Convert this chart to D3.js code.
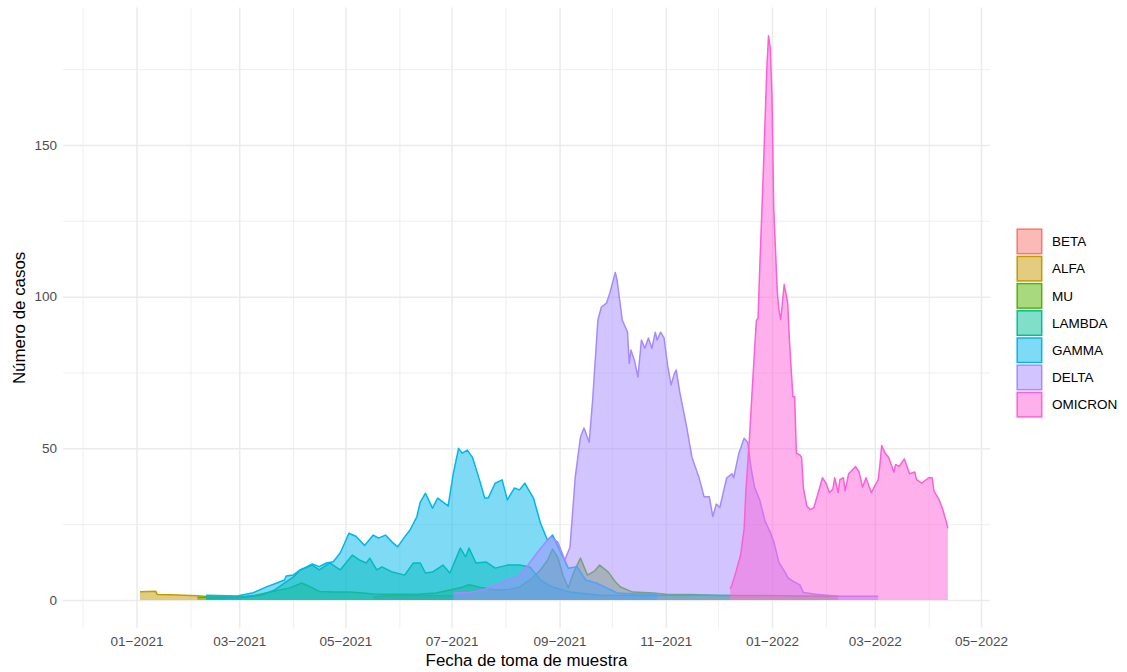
<!DOCTYPE html>
<html>
<head>
<meta charset="utf-8">
<script src="https://cdn.jsdelivr.net/npm/d3@7"></script>
<style>
  body { margin: 0; background: #fff; }
  svg { font-family: "Liberation Sans", Arial, Helvetica, sans-serif; }
  .grid line { stroke: #ebebeb; }
  .grid path { display: none; }
  .axis path { display: none; }
  .axis text { fill: #4d4d4d; font-size: 13.5px; }
</style>
</head>
<body>
<svg id="chart" width="1127" height="672"></svg>
<script>
var variants = ["BETA", "ALFA", "MU", "LAMBDA", "GAMMA", "DELTA", "OMICRON"];
var colors = ["#F8766D", "#C49A00", "#53B400", "#00C094", "#00B6EB", "#A58AFF", "#FB61D7"];

// first and last sample date in the data set
var dateRange = ["2020-12-14", "2022-04-12"];
var xBreaks = ["2021-01-01", "2021-03-01", "2021-05-01", "2021-07-01", "2021-09-01", "2021-11-01",
               "2022-01-01", "2022-03-01", "2022-05-01"];
var xMinor = ["2020-12-01", "2021-02-01", "2021-04-01", "2021-06-01", "2021-08-01", "2021-10-01",
              "2021-12-01", "2022-02-01", "2022-04-01"];
var yBreaks = [0, 50, 100, 150];
var yMinor = [25, 75, 125, 175];

var BETA = [["2021-05-17", 1.0], ["2021-05-22", 1.3], ["2021-06-01", 1.4], ["2021-06-12", 1.5],
            ["2021-06-22", 1.4], ["2021-07-02", 1.3]];

var ALFA = [["2021-01-03", 2.7], ["2021-01-08", 2.8], ["2021-01-12", 2.9], ["2021-01-13", 1.8],
            ["2021-01-20", 1.7], ["2021-01-28", 1.6], ["2021-02-05", 1.4], ["2021-02-12", 1.1],
            ["2021-02-20", 1.0], ["2021-03-02", 0.9]];

var MU = [["2021-02-05", 0.8], ["2021-02-12", 1.0], ["2021-02-22", 1.0], ["2021-03-02", 1.0],
          ["2021-03-10", 1.6], ["2021-03-19", 2.6], ["2021-03-30", 4.0], ["2021-04-06", 5.6],
          ["2021-04-11", 4.3], ["2021-04-16", 2.8], ["2021-04-25", 2.6], ["2021-05-03", 2.6],
          ["2021-05-11", 2.3], ["2021-05-17", 2.0], ["2021-06-01", 1.9], ["2021-06-13", 2.0],
          ["2021-06-22", 2.3], ["2021-06-30", 3.3], ["2021-07-07", 4.2], ["2021-07-11", 5.0],
          ["2021-07-19", 4.0], ["2021-07-26", 3.3], ["2021-08-03", 3.5], ["2021-08-09", 4.3],
          ["2021-08-15", 6.6], ["2021-08-21", 9.9], ["2021-08-25", 13.0], ["2021-08-28", 16.8],
          ["2021-08-31", 14.0], ["2021-09-03", 8.0], ["2021-09-06", 4.0], ["2021-09-09", 9.0],
          ["2021-09-13", 13.8], ["2021-09-17", 8.2], ["2021-09-21", 9.5], ["2021-09-24", 11.5],
          ["2021-09-29", 9.2], ["2021-10-03", 6.0], ["2021-10-06", 4.3], ["2021-10-13", 2.6],
          ["2021-10-25", 2.3], ["2021-11-02", 1.8], ["2021-11-15", 1.8], ["2021-12-02", 1.5],
          ["2021-12-25", 1.5], ["2022-01-17", 1.3], ["2022-02-08", 1.2]];

var LAMBDA = [["2021-02-10", 0.5], ["2021-03-02", 0.8], ["2021-03-13", 1.5], ["2021-03-21", 3.2],
              ["2021-03-28", 6.0], ["2021-04-01", 7.5], ["2021-04-05", 9.9], ["2021-04-12", 11.5],
              ["2021-04-16", 9.9], ["2021-04-22", 12.2], ["2021-04-28", 9.9], ["2021-05-05", 14.8],
              ["2021-05-09", 13.2], ["2021-05-13", 12.2], ["2021-05-15", 13.8], ["2021-05-19", 9.9],
              ["2021-05-22", 10.9], ["2021-05-28", 9.2], ["2021-06-04", 8.2], ["2021-06-09", 12.2],
              ["2021-06-13", 12.2], ["2021-06-16", 8.9], ["2021-06-20", 9.2], ["2021-06-26", 11.5],
              ["2021-06-30", 8.9], ["2021-07-06", 17.1], ["2021-07-09", 14.2], ["2021-07-11", 17.1],
              ["2021-07-15", 12.2], ["2021-07-21", 12.5], ["2021-07-26", 10.5], ["2021-08-02", 11.5],
              ["2021-08-09", 11.5], ["2021-08-15", 10.9], ["2021-08-21", 6.6], ["2021-08-25", 5.2],
              ["2021-08-28", 4.3], ["2021-09-07", 2.6], ["2021-09-24", 1.6], ["2021-10-23", 1.5],
              ["2021-11-21", 1.6], ["2021-12-08", 1.5]];

var GAMMA = [["2021-02-10", 1.6], ["2021-02-28", 1.3], ["2021-03-09", 2.4], ["2021-03-17", 4.4],
             ["2021-03-23", 5.7], ["2021-03-27", 6.6], ["2021-03-28", 7.9], ["2021-04-01", 8.2],
             ["2021-04-05", 9.9], ["2021-04-09", 11.0], ["2021-04-12", 11.9], ["2021-04-16", 11.0],
             ["2021-04-20", 12.2], ["2021-04-24", 12.6], ["2021-04-28", 15.5], ["2021-05-03", 22.0],
             ["2021-05-07", 21.0], ["2021-05-12", 18.0], ["2021-05-17", 21.4], ["2021-05-20", 20.4],
             ["2021-05-24", 21.4], ["2021-05-28", 19.0], ["2021-05-31", 17.5], ["2021-06-04", 20.8],
             ["2021-06-07", 23.0], ["2021-06-11", 27.4], ["2021-06-13", 32.3], ["2021-06-16", 35.2],
             ["2021-06-20", 30.3], ["2021-06-23", 33.6], ["2021-06-29", 31.0], ["2021-07-02", 41.8],
             ["2021-07-05", 50.0], ["2021-07-07", 48.4], ["2021-07-10", 49.4], ["2021-07-13", 47.0],
             ["2021-07-17", 39.6], ["2021-07-20", 33.6], ["2021-07-22", 33.6], ["2021-07-26", 38.5],
             ["2021-07-30", 39.6], ["2021-08-02", 33.0], ["2021-08-06", 36.9], ["2021-08-09", 36.3],
             ["2021-08-12", 38.5], ["2021-08-17", 33.6], ["2021-08-21", 25.4], ["2021-08-25", 19.8],
             ["2021-08-28", 21.4], ["2021-09-01", 16.5], ["2021-09-06", 10.5], ["2021-09-11", 11.0],
             ["2021-09-16", 6.6], ["2021-09-22", 5.6], ["2021-09-28", 4.0], ["2021-10-04", 2.3],
             ["2021-10-15", 2.0], ["2021-10-27", 2.0]];

var DELTA = [["2021-07-02", 2.3], ["2021-07-11", 2.5], ["2021-07-19", 3.3], ["2021-07-27", 5.0],
             ["2021-08-02", 6.6], ["2021-08-08", 7.6], ["2021-08-13", 10.9], ["2021-08-19", 15.5],
             ["2021-08-25", 19.8], ["2021-08-27", 20.8], ["2021-08-31", 19.1], ["2021-09-04", 13.2],
             ["2021-09-07", 17.5], ["2021-09-10", 40.5], ["2021-09-13", 53.7], ["2021-09-15", 56.7],
             ["2021-09-18", 52.0], ["2021-09-20", 66.0], ["2021-09-23", 92.3], ["2021-09-25", 96.6],
             ["2021-09-28", 97.9], ["2021-09-30", 101.5], ["2021-10-03", 108.0], ["2021-10-04", 105.5],
             ["2021-10-07", 92.3], ["2021-10-10", 88.3], ["2021-10-11", 78.0], ["2021-10-12", 82.4],
             ["2021-10-14", 79.0], ["2021-10-16", 73.5], ["2021-10-18", 85.7], ["2021-10-20", 83.0],
             ["2021-10-22", 86.4], ["2021-10-24", 83.0], ["2021-10-26", 88.3], ["2021-10-27", 85.7],
             ["2021-10-29", 88.3], ["2021-10-31", 86.4], ["2021-11-02", 77.5], ["2021-11-04", 70.9],
             ["2021-11-06", 74.8], ["2021-11-07", 75.8], ["2021-11-09", 68.6], ["2021-11-13", 57.0],
             ["2021-11-16", 47.1], ["2021-11-20", 40.5], ["2021-11-23", 34.0], ["2021-11-26", 34.0],
             ["2021-11-28", 27.5], ["2021-11-30", 31.6], ["2021-12-02", 30.5], ["2021-12-06", 40.3],
             ["2021-12-09", 41.6], ["2021-12-10", 40.3], ["2021-12-13", 48.4], ["2021-12-16", 53.3],
             ["2021-12-18", 52.0], ["2021-12-20", 43.4], ["2021-12-22", 37.2], ["2021-12-25", 32.9],
             ["2021-12-28", 26.0], ["2021-12-31", 22.3], ["2022-01-02", 19.2], ["2022-01-05", 12.4],
             ["2022-01-09", 8.7], ["2022-01-10", 7.4], ["2022-01-13", 6.2], ["2022-01-17", 5.0],
             ["2022-01-19", 2.5], ["2022-01-26", 1.9], ["2022-02-08", 1.2], ["2022-03-03", 1.2]];

var OMICRON = [["2021-12-08", 3.7], ["2021-12-09", 5.0], ["2021-12-11", 8.7], ["2021-12-14", 14.9],
               ["2021-12-16", 23.6], ["2021-12-17", 36.0], ["2021-12-19", 53.0], ["2021-12-21", 73.0],
               ["2021-12-23", 92.0], ["2021-12-24", 93.0], ["2021-12-25", 110.0], ["2021-12-27", 141.0],
               ["2021-12-29", 175.0], ["2021-12-30", 186.0], ["2021-12-31", 182.0], ["2022-01-01", 166.0],
               ["2022-01-02", 129.0], ["2022-01-04", 102.0], ["2022-01-05", 95.5], ["2022-01-06", 92.4],
               ["2022-01-08", 104.0], ["2022-01-10", 98.0], ["2022-01-11", 85.6], ["2022-01-13", 67.0],
               ["2022-01-14", 67.0], ["2022-01-15", 48.4], ["2022-01-17", 47.8], ["2022-01-18", 47.0],
               ["2022-01-19", 37.0], ["2022-01-21", 31.0], ["2022-01-23", 29.8], ["2022-01-25", 30.4],
               ["2022-01-26", 32.3], ["2022-01-30", 40.3], ["2022-02-01", 38.5], ["2022-02-03", 35.4],
               ["2022-02-05", 36.6], ["2022-02-06", 40.3], ["2022-02-08", 35.4], ["2022-02-09", 39.7],
               ["2022-02-11", 40.3], ["2022-02-12", 36.0], ["2022-02-14", 41.6], ["2022-02-16", 42.8],
               ["2022-02-18", 44.0], ["2022-02-20", 42.2], ["2022-02-22", 37.2], ["2022-02-24", 40.3],
               ["2022-02-27", 35.4], ["2022-03-03", 39.7], ["2022-03-04", 44.7], ["2022-03-05", 50.9],
               ["2022-03-07", 48.4], ["2022-03-09", 47.0], ["2022-03-12", 42.2], ["2022-03-13", 44.7],
               ["2022-03-15", 44.0], ["2022-03-18", 46.5], ["2022-03-21", 41.6], ["2022-03-24", 42.2],
               ["2022-03-25", 39.7], ["2022-03-28", 38.5], ["2022-04-01", 40.3], ["2022-04-03", 40.3],
               ["2022-04-04", 36.0], ["2022-04-07", 33.0], ["2022-04-09", 30.0], ["2022-04-11", 26.0],
               ["2022-04-12", 23.6]];

var seriesData = [BETA, ALFA, MU, LAMBDA, GAMMA, DELTA, OMICRON];

var parseDate = d3.utcParse("%Y-%m-%d");

var svg = d3.select("#chart"),
    margin = {top: 7.6, right: 137, bottom: 43.8, left: 63},
    width = +svg.attr("width") - margin.left - margin.right,
    height = +svg.attr("height") - margin.top - margin.bottom,
    g = svg.append("g").attr("transform", "translate(" + margin.left + "," + margin.top + ")");

var series = variants.map(function(id, i) {
  return {
    id: id,
    color: colors[i],
    values: seriesData[i].map(function(d) { return {date: parseDate(d[0]), v: d[1]}; })
  };
});

// ggplot style 5% expansion
var t0 = parseDate(dateRange[0]), t1 = parseDate(dateRange[1]),
    pad = (t1 - t0) * 0.05;
var yMax = d3.max(series, function(s) { return d3.max(s.values, function(d) { return d.v; }); });

var x = d3.scaleUtc().domain([new Date(+t0 - pad), new Date(+t1 + pad)]).range([0, width]),
    y = d3.scaleLinear().domain([-yMax * 0.05, yMax * 1.05]).range([height, 0]);

// grid
g.append("g")
    .attr("class", "grid")
    .call(d3.axisBottom(x).tickValues(xMinor.map(parseDate)).tickSize(height).tickFormat(""))
    .selectAll("line").attr("stroke-width", 0.8);
g.append("g")
    .attr("class", "grid")
    .call(d3.axisLeft(y).tickValues(yMinor).tickSize(-width).tickFormat(""))
    .selectAll("line").attr("stroke-width", 0.8);
g.append("g")
    .attr("class", "grid")
    .call(d3.axisBottom(x).tickValues(xBreaks.map(parseDate)).tickSize(height).tickFormat(""))
    .selectAll("line").attr("stroke-width", 1.5);
g.append("g")
    .attr("class", "grid")
    .call(d3.axisLeft(y).tickValues(yBreaks).tickSize(-width).tickFormat(""))
    .selectAll("line").attr("stroke-width", 1.5);

var area = d3.area()
    .x(function(d) { return x(d.date); })
    .y0(y(0))
    .y1(function(d) { return y(d.v); });

var line = d3.line()
    .x(function(d) { return x(d.date); })
    .y(function(d) { return y(d.v); });

var variant = g.selectAll(".variant")
  .data(series)
  .enter().append("g")
    .attr("class", "variant");

variant.append("path")
    .attr("d", function(d) { return area(d.values); })
    .attr("fill", function(d) { return d.color; })
    .attr("fill-opacity", 0.5);

variant.append("path")
    .attr("d", function(d) { return line(d.values); })
    .attr("fill", "none")
    .attr("stroke", function(d) { return d.color; })
    .attr("stroke-width", 1.5)
    .attr("stroke-linejoin", "round");

// axes
var fmt = d3.utcFormat("%m");
g.append("g")
    .attr("class", "axis")
    .attr("transform", "translate(0," + height + ")")
    .call(d3.axisBottom(x).tickValues(xBreaks.map(parseDate)).tickSize(0).tickPadding(8)
      .tickFormat(function(d) { return fmt(d) + "\u2212" + d.getUTCFullYear(); }));

g.append("g")
    .attr("class", "axis")
    .call(d3.axisLeft(y).tickValues(yBreaks).tickSize(0).tickPadding(6));

svg.append("text")
    .attr("x", margin.left + width / 2)
    .attr("y", 666)
    .attr("text-anchor", "middle")
    .style("font-size", "16.9px")
    .attr("fill", "#000")
    .text("Fecha de toma de muestra");

svg.append("text")
    .attr("transform", "translate(25," + (margin.top + height / 2) + ") rotate(-90)")
    .attr("text-anchor", "middle")
    .style("font-size", "16.9px")
    .attr("fill", "#000")
    .text("Número de casos");

// legend
var legend = svg.append("g")
    .attr("transform", "translate(1016,228)");

var key = legend.selectAll(".key")
  .data(series)
  .enter().append("g")
    .attr("class", "key")
    .attr("transform", function(d, i) { return "translate(0," + (i * 27.2) + ")"; });

key.append("rect")
    .attr("x", 1.2)
    .attr("y", 1.2)
    .attr("width", 24.5)
    .attr("height", 24.5)
    .attr("fill", function(d) { return d.color; })
    .attr("fill-opacity", 0.5)
    .attr("stroke", function(d) { return d.color; })
    .attr("stroke-width", 1.5);

key.append("text")
    .attr("x", 36)
    .attr("y", 13.5)
    .attr("dy", "0.35em")
    .style("font-size", "13.5px")
    .attr("fill", "#000")
    .text(function(d) { return d.id; });
</script>
</body>
</html>
